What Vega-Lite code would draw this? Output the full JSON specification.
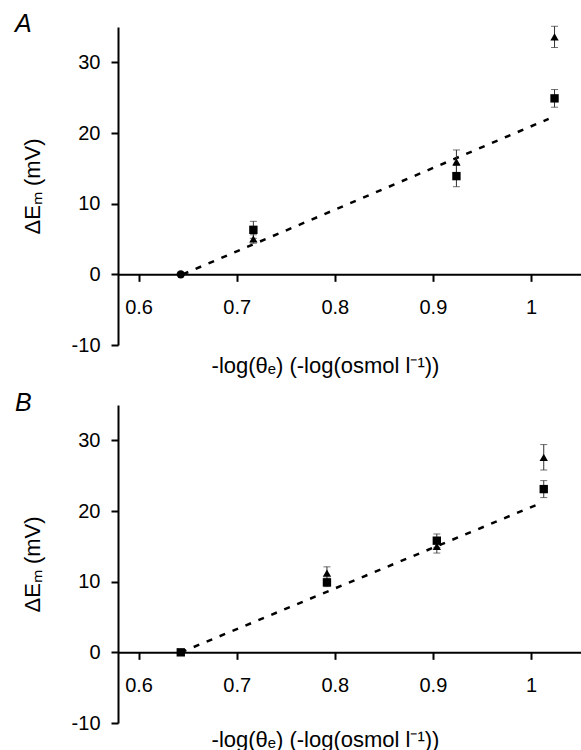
{
  "$schema": "https://vega.github.io/schema/vega-lite/v6.json",
  "padding": {"left": 15, "top": 11, "right": 0, "bottom": 0},
  "background": "white",
  "config": {
    "font": "Liberation Sans",
    "view": {"stroke": null},
    "axis": {
      "domainColor": "black", "domainWidth": 2, "tickColor": "black", "tickWidth": 2, "tickSize": 7,
      "labelFontSize": 20, "labelColor": "black", "labelFont": "Liberation Sans",
      "labelExpr": "replace(datum.label, '−', '-')",
      "titleFontSize": 22, "titleFontWeight": "normal", "titleColor": "black", "titleFont": "Liberation Sans",
      "grid": false
    },
    "title": {"fontSize": 25, "fontStyle": "italic", "fontWeight": "normal", "anchor": "start", "frame": "group", "color": "black", "font": "Liberation Sans"}
  },
  "datasets": {
    "ptsA": [
      {"x": 0.643, "y": 0, "err": 0, "series": "origin"},
      {"x": 0.717, "y": 6.3, "err": 1.2, "series": "square"},
      {"x": 0.717, "y": 5.0, "err": 0.6, "series": "triangle"},
      {"x": 0.924, "y": 13.9, "err": 1.5, "series": "square"},
      {"x": 0.924, "y": 15.9, "err": 1.7, "series": "triangle"},
      {"x": 1.024, "y": 24.9, "err": 1.25, "series": "square"},
      {"x": 1.024, "y": 33.6, "err": 1.5, "series": "triangle"}
    ],
    "fitA": [
      {"x": 0.645, "y": 0},
      {"x": 1.018, "y": 22.0}
    ],
    "ptsB": [
      {"x": 0.643, "y": 0, "err": 0, "series": "square"},
      {"x": 0.792, "y": 9.9, "err": 0.6, "series": "square"},
      {"x": 0.792, "y": 11.2, "err": 0.9, "series": "triangle"},
      {"x": 0.904, "y": 15.8, "err": 0.95, "series": "square"},
      {"x": 0.904, "y": 15.0, "err": 0.95, "series": "triangle"},
      {"x": 1.013, "y": 23.1, "err": 1.2, "series": "square"},
      {"x": 1.013, "y": 27.6, "err": 1.8, "series": "triangle"}
    ],
    "fitB": [
      {"x": 0.643, "y": 0},
      {"x": 1.008, "y": 21.0}
    ]
  },
  "spacing": 14,
  "vconcat": [
    {
      "title": {"text": "A", "dx": -103, "baseline": "alphabetic", "dy": 31, "offset": 0},
      "width": 464, "height": 318,
      "encoding": {
        "x": {"field": "x", "type": "quantitative",
          "scale": {"domain": [0.579, 1.052], "nice": false, "zero": false},
          "axis": {"values": [0.6, 0.7, 0.8, 0.9, 1], "format": "~g", "offset": -70.67, "labelPadding": 16, "labelFlush": false, "titlePadding": 38, "titleX": 207,
            "title": "-log(θₑ) (-log(osmol l⁻¹))"}},
        "y": {"field": "y", "type": "quantitative",
          "scale": {"domain": [-10, 35], "nice": false, "zero": false},
          "axis": {"values": [-10, 0, 10, 20, 30], "labelPadding": 11, "titlePadding": 27, "title": "ΔEₘ (mV)"}}
      },
      "layer": [
        {"data": {"name": "fitA"}, "mark": {"type": "line", "strokeDash": [6, 8], "strokeWidth": 2.5, "color": "black"}},
        {"data": {"name": "ptsA"}, "mark": {"type": "errorbar", "ticks": {"size": 7, "thickness": 1}, "color": "#333", "thickness": 1},
          "encoding": {"yError": {"field": "err"}}},
        {"data": {"name": "ptsA"}, "mark": {"type": "point", "filled": true, "size": 70, "color": "black", "opacity": 1},
          "encoding": {"shape": {"field": "series", "type": "nominal", "legend": null,
            "scale": {"domain": ["square", "triangle", "origin"], "range": ["square", "triangle-up", "circle"]}}}}
      ]
    },
    {
      "title": {"text": "B", "dx": -103, "baseline": "alphabetic", "dy": 31, "offset": 0},
      "width": 464, "height": 318,
      "encoding": {
        "x": {"field": "x", "type": "quantitative",
          "scale": {"domain": [0.579, 1.052], "nice": false, "zero": false},
          "axis": {"values": [0.6, 0.7, 0.8, 0.9, 1], "format": "~g", "offset": -70.67, "labelPadding": 16, "labelFlush": false, "titlePadding": 34, "titleX": 207,
            "title": "-log(θₑ) (-log(osmol l⁻¹))"}},
        "y": {"field": "y", "type": "quantitative",
          "scale": {"domain": [-10, 35], "nice": false, "zero": false},
          "axis": {"values": [-10, 0, 10, 20, 30], "labelPadding": 11, "titlePadding": 27, "title": "ΔEₘ (mV)"}}
      },
      "layer": [
        {"data": {"name": "fitB"}, "mark": {"type": "line", "strokeDash": [6, 8], "strokeWidth": 2.5, "color": "black"}},
        {"data": {"name": "ptsB"}, "mark": {"type": "errorbar", "ticks": {"size": 7, "thickness": 1}, "color": "#333", "thickness": 1},
          "encoding": {"yError": {"field": "err"}}},
        {"data": {"name": "ptsB"}, "mark": {"type": "point", "filled": true, "size": 70, "color": "black", "opacity": 1},
          "encoding": {"shape": {"field": "series", "type": "nominal", "legend": null,
            "scale": {"domain": ["square", "triangle", "origin"], "range": ["square", "triangle-up", "circle"]}}}}
      ]
    }
  ]
}
